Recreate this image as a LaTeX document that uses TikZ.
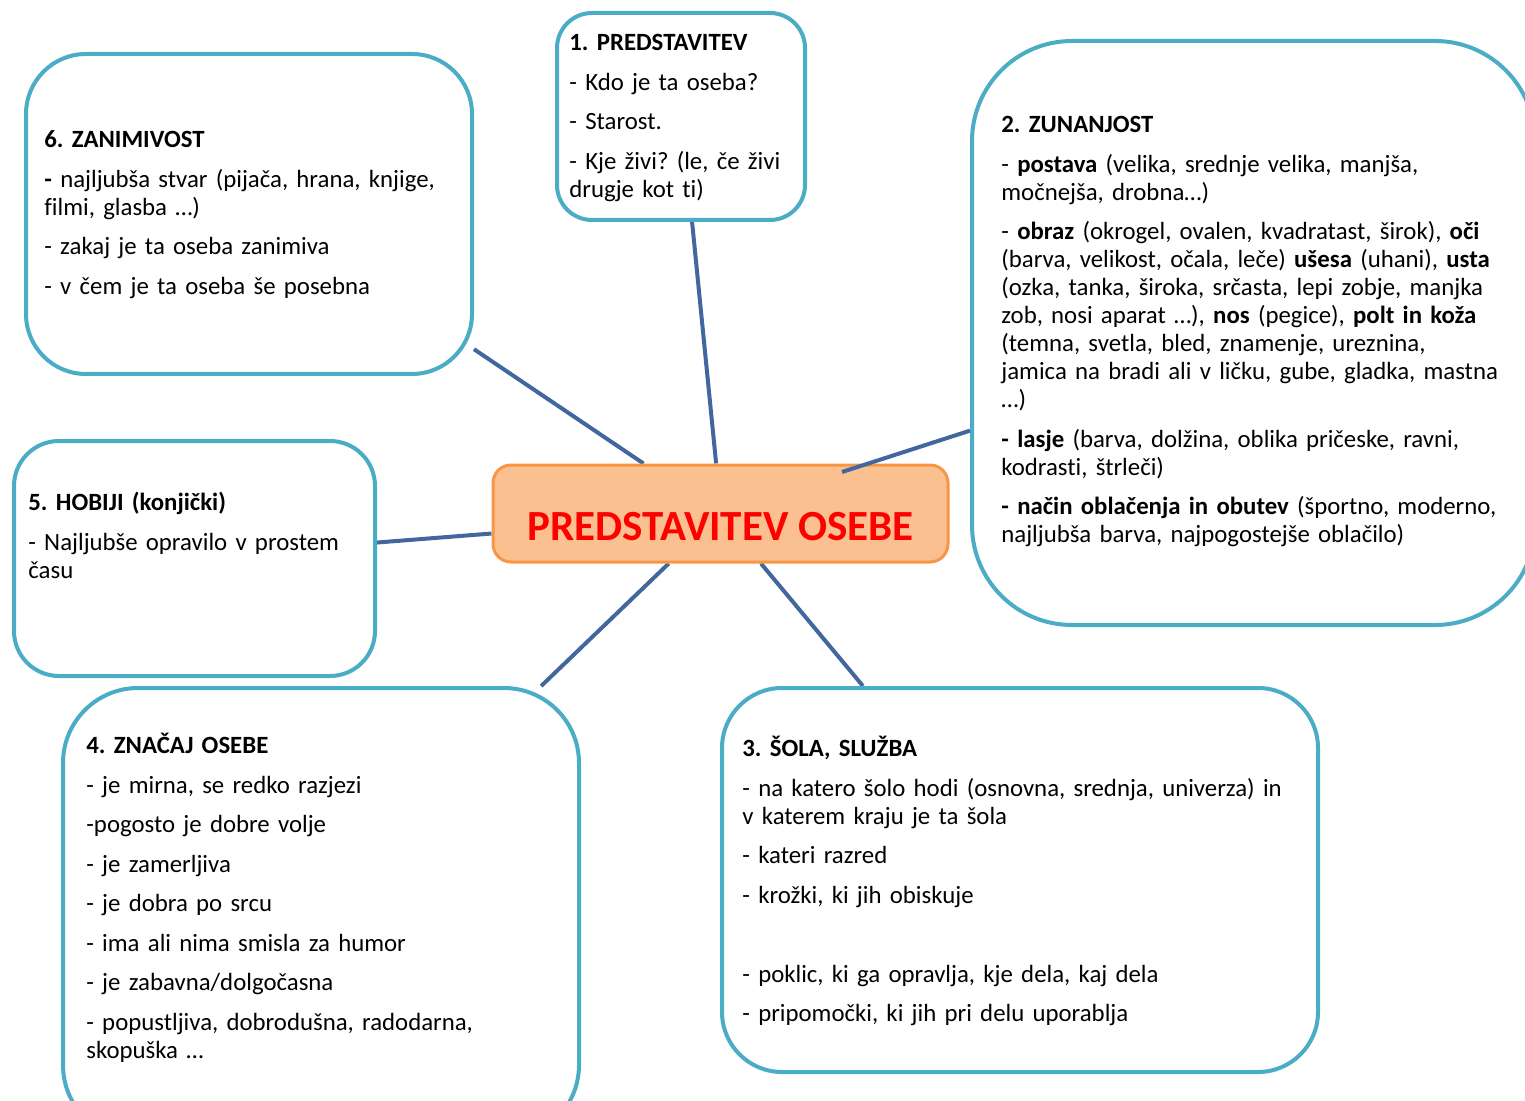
\documentclass[tikz,border=0pt]{standalone}
\usepackage{fontspec}
\setmainfont{Carlito}[Ligatures={NoCommon,NoContextual},Contextuals={NoAlternate}]
\usetikzlibrary{backgrounds}
\definecolor{boxline}{RGB}{75,172,198}
\definecolor{hubfill}{RGB}{250,192,144}
\definecolor{hubline}{RGB}{247,150,70}
\definecolor{linkline}{RGB}{66,103,158}
\definecolor{titlered}{RGB}{255,0,0}
\newcommand{\topstrut}{\rule{0pt}{9.2pt}}
\newcommand{\gap}{\\[5.75pt]}

\begin{document}
\frenchspacing
\begin{tikzpicture}[x=0.5pt,y=-0.5pt,
  infobox/.style={draw=boxline, line width=2pt, fill=white, inner sep=0pt, rounded corners=#1},
  hubbox/.style={draw=hubline, line width=1.5pt, fill=hubfill, inner sep=0pt, rounded corners=9pt},
  boxtext/.style={anchor=north west, inner sep=0pt, text width=320pt, align=left,
    font=\fontsize{12.4}{14}\selectfont},
  link/.style={draw=linkline, line width=2pt}]
\useasboundingbox (0,0) rectangle (1525,1101);

% boxes
\node[infobox=17.5pt, minimum width=124pt, minimum height=103.5pt] (b1) at (681,116.5) {};
\node[infobox=50pt, minimum width=281.5pt, minimum height=292pt] (b2) at (1253.5,333) {};
\node[infobox=30pt, minimum width=298pt, minimum height=192pt] (b3) at (1020,880) {};
\node[infobox=37.5pt, minimum width=258pt, minimum height=226pt] (b4) at (321,914) {};
\node[infobox=22.5pt, minimum width=180.5pt, minimum height=117.5pt] (b5) at (194.5,558.5) {};
\node[infobox=30pt, minimum width=223pt, minimum height=160pt] (b6) at (249,214) {};
\node[hubbox, minimum width=227.5pt, minimum height=48.5pt] (hub) at (720.5,513.5) {};
\node[font=\fontsize{21.5}{25}\selectfont\bfseries, text=titlered] (hubtitle) at (720.5,527) {PREDSTAVITEV OSEBE};

% links
\begin{scope}[on background layer]
\draw[link] (b1.-84) -- (hub.95);
\draw[link] (b3.129) -- (hub.-51);
\draw[link] (b4.46) -- (hub.-136);
\draw[link] (b5.5) -- (hub.185);
\draw[link] (b6.-31) -- (hub.147);
\end{scope}
\coordinate (h2) at (842,472);
\draw[link] (b2.-161) -- (h2);

% texts
\node[boxtext] (t1) at (569,32) {\topstrut\textbf{1. PREDSTAVITEV}\gap
- Kdo je ta oseba?\gap
- Starost.\gap
- Kje živi? (le, če živi\\ drugje kot ti)};

\node[boxtext] (t2) at (1001,114) {\topstrut\textbf{2. ZUNANJOST}\gap
- \textbf{postava} (velika, srednje velika, manjša,\\ močnejša, drobna…)\gap
- \textbf{obraz} (okrogel, ovalen, kvadratast, širok), \textbf{oči}\\ (barva, velikost, očala, leče) \textbf{ušesa} (uhani), \textbf{usta}\\ (ozka, tanka, široka, srčasta, lepi zobje, manjka\\ zob, nosi aparat …), \textbf{nos} (pegice), \textbf{polt in koža}\\ (temna, svetla, bled, znamenje, ureznina,\\ jamica na bradi ali v ličku, gube, gladka, mastna\\ …)\gap
\textbf{- lasje} (barva, dolžina, oblika pričeske, ravni,\\ kodrasti, štrleči)\gap
\textbf{- način oblačenja in obutev} (športno, moderno,\\ najljubša barva, najpogostejše oblačilo)};

\node[boxtext] (t3) at (742,736) {\topstrut\textbf{3. ŠOLA, SLUŽBA}\gap
- na katero šolo hodi (osnovna, srednja, univerza) in\\ v katerem kraju je ta šola\gap
- kateri razred\gap
- krožki, ki jih obiskuje\gap
\mbox{}\gap
- poklic, ki ga opravlja, kje dela, kaj dela\gap
- pripomočki, ki jih pri delu uporablja};

\node[boxtext] (t4) at (86,733) {\topstrut\textbf{4. ZNAČAJ OSEBE}\gap
- je mirna, se redko razjezi\gap
-pogosto je dobre volje\gap
- je zamerljiva\gap
- je dobra po srcu\gap
- ima ali nima smisla za humor\gap
- je zabavna/dolgočasna\gap
- popustljiva, dobrodušna, radodarna,\\ skopuška …};

\node[boxtext] (t5) at (28,492) {\topstrut\textbf{5. HOBIJI (konjički)}\gap
- Najljubše opravilo v prostem\\ času};

\node[boxtext] (t6) at (44,129) {\topstrut\textbf{6. ZANIMIVOST}\gap
\textbf{-} najljubša stvar (pijača, hrana, knjige,\\ filmi, glasba …)\gap
- zakaj je ta oseba zanimiva\gap
- v čem je ta oseba še posebna};
\end{tikzpicture}
\end{document}
